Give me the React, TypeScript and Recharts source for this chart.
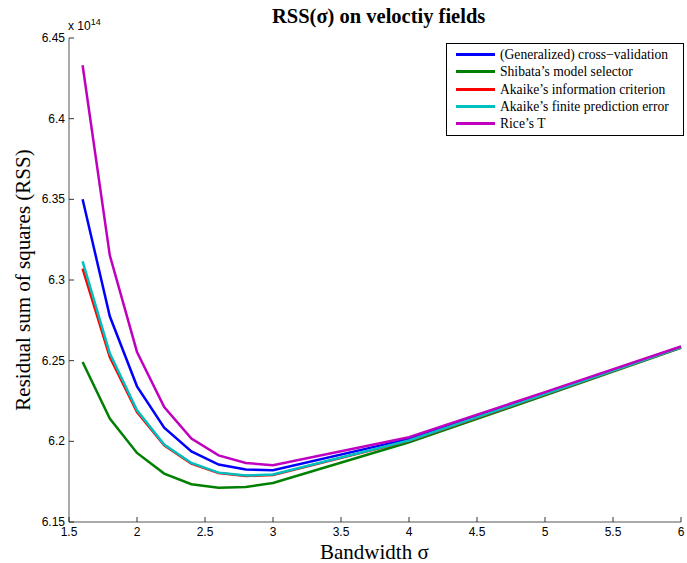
import { LineChart, Line, XAxis, YAxis } from "recharts";

const bandwidth = [1.6, 1.8, 2.0, 2.2, 2.4, 2.6, 2.8, 3.0, 4.0, 5.0, 6.0];

const gcv = [6.35, 6.2775, 6.2341, 6.2085, 6.1938, 6.1856, 6.1825, 6.1821, 6.2015, 6.2298, 6.2585];
const shibata = [6.2492, 6.2141, 6.1928, 6.18, 6.1734, 6.1713, 6.1717, 6.1742, 6.1994, 6.2285, 6.258];
const aic = [6.3071, 6.2523, 6.2182, 6.1975, 6.1862, 6.1803, 6.1785, 6.1792, 6.2003, 6.2291, 6.2582];
const fpe = [6.3116, 6.2545, 6.2192, 6.198, 6.1866, 6.1806, 6.1788, 6.1794, 6.2005, 6.2293, 6.2583];
const riceT = [6.4331, 6.3153, 6.2554, 6.2213, 6.2017, 6.1913, 6.1866, 6.1852, 6.2025, 6.2305, 6.2588];

const xTicks = [1.5, 2, 2.5, 3, 3.5, 4, 4.5, 5, 5.5, 6];
const yTicks = [6.15, 6.2, 6.25, 6.3, 6.35, 6.4, 6.45];

const series = [
  { key: "gcv", name: "(Generalized) cross\u2212validation", color: "#0000ff", values: gcv },
  { key: "shibata", name: "Shibata\u2019s model selector", color: "#008000", values: shibata },
  { key: "aic", name: "Akaike\u2019s information criterion", color: "#ff0000", values: aic },
  { key: "fpe", name: "Akaike\u2019s finite prediction error", color: "#00bfbf", values: fpe },
  { key: "rice", name: "Rice\u2019s T", color: "#bf00bf", values: riceT },
];

const data = bandwidth.map((b, i) => {
  const row: Record<string, number> = { sigma: b };
  series.forEach((s) => {
    row[s.key] = s.values[i];
  });
  return row;
});

const tickFont = "'Liberation Sans', Arial, sans-serif";
const serif = "'Liberation Serif', 'Times New Roman', serif";

// matlab style: ticks point into the plot
const XTick = (props: any) => {
  const { x, y, payload } = props;
  return (
    <g>
      <line x1={x} y1={y} x2={x} y2={y - 5} stroke="#333" />
      <text x={x} y={y + 14} textAnchor="middle" fontSize={12} fontFamily={tickFont} fill="#000">
        {payload.value}
      </text>
    </g>
  );
};

const YTick = (props: any) => {
  const { x, y, payload } = props;
  return (
    <g>
      <line x1={x} y1={y} x2={x + 5} y2={y} stroke="#333" />
      <text x={x - 4} y={y + 4} textAnchor="end" fontSize={12} fontFamily={tickFont} fill="#000">
        {payload.value}
      </text>
    </g>
  );
};

const LegendBox = () => (
  <div
    style={{
      position: "absolute",
      left: 438,
      top: 35,
      width: 227,
      border: "1px solid #000",
      background: "#fff",
      padding: "2px 0 3px 9px",
      fontFamily: serif,
      fontSize: 13.6,
      lineHeight: "17.3px",
    }}
  >
    {series.map((s) => (
      <div key={s.key} style={{ display: "flex", alignItems: "center", whiteSpace: "nowrap" }}>
        <span style={{ display: "inline-block", width: 39, height: 3, background: s.color, marginRight: 5 }} />
        <span>{s.name}</span>
      </div>
    ))}
  </div>
);

export default function App() {
  return (
    <div style={{ position: "fixed", left: 0, top: 0, width: 687, height: 563, overflow: "hidden", background: "#fff" }}>
      <div style={{ position: "absolute", left: 8, top: 8, width: 679, height: 555 }}>
        <LineChart
          width={679}
          height={555}
          data={data}
          margin={{ top: 30, right: 6, bottom: 0, left: 0 }}
          style={{ overflow: "visible" }}
        >
          <XAxis
            dataKey="sigma"
            type="number"
            domain={[1.5, 6]}
            ticks={xTicks}
            interval={0}
            tickSize={0}
            tickMargin={0}
            tickLine={false}
            axisLine={{ stroke: "#555", strokeWidth: 1 }}
            tick={<XTick />}
            height={41}
          />
          <YAxis
            type="number"
            domain={[6.15, 6.45]}
            ticks={yTicks}
            interval={0}
            tickSize={0}
            tickMargin={0}
            tickLine={false}
            axisLine={{ stroke: "#555", strokeWidth: 1 }}
            tick={<YTick />}
            width={61}
            allowDataOverflow
          />
          {series.map((s) => (
            <Line
              key={s.key}
              dataKey={s.key}
              name={s.name}
              stroke={s.color}
              strokeWidth={2.5}
              dot={false}
              isAnimationActive={false}
              type="linear"
            />
          ))}
        </LineChart>
        <div
          style={{
            position: "absolute",
            left: 264,
            top: -3,
            whiteSpace: "nowrap",
            fontFamily: serif,
            fontWeight: "bold",
            fontSize: 20.5,
          }}
        >
          RSS(σ) on veloctiy fields
        </div>
        <div
          style={{
            position: "absolute",
            left: 60,
            top: 9,
            fontFamily: tickFont,
            fontSize: 12,
          }}
        >
          x 10<sup style={{ fontSize: 9 }}>14</sup>
        </div>
        <div
          style={{
            position: "absolute",
            left: 15,
            top: 272,
            transform: "translate(-50%, -50%) rotate(-90deg)",
            whiteSpace: "nowrap",
            fontFamily: serif,
            fontSize: 21,
          }}
        >
          Residual sum of squares (RSS)
        </div>
        <div
          style={{
            position: "absolute",
            left: 312,
            top: 534,
            whiteSpace: "nowrap",
            fontFamily: serif,
            fontSize: 21,
            lineHeight: "21px",
          }}
        >
          Bandwidth σ
        </div>
        <LegendBox />
      </div>
    </div>
  );
}
